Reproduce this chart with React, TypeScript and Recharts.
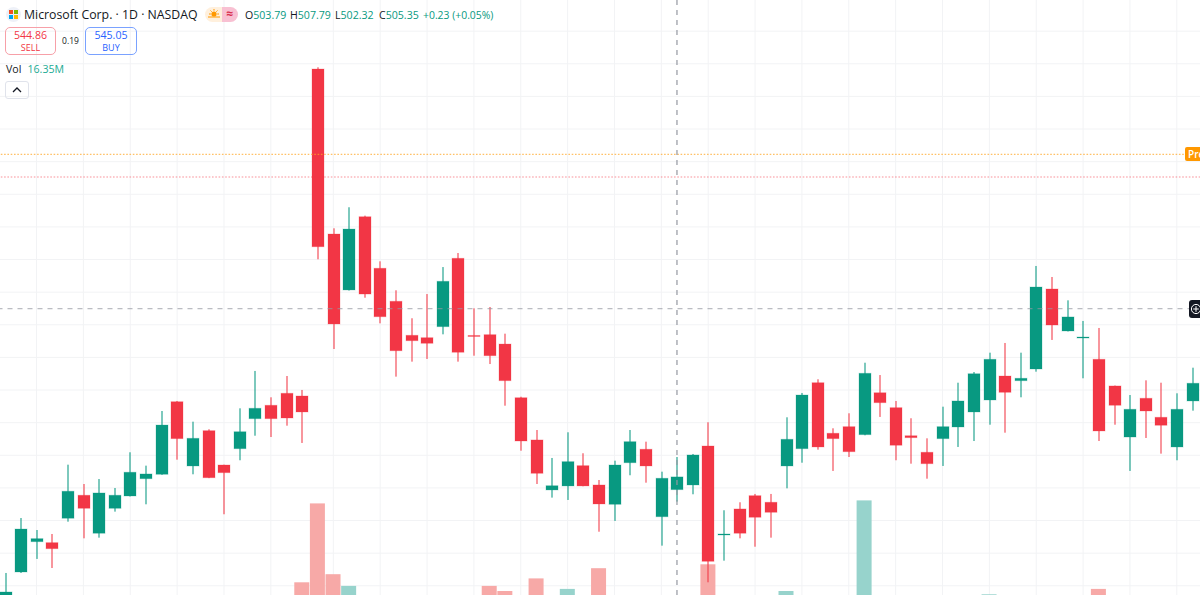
import { ComposedChart, Bar, XAxis, YAxis, ReferenceLine, CartesianGrid } from "recharts";

// daily candles, oldest first
const opens = [
  490.26, 493.69, 497.41, 497.29, 500.28, 503.1, 498.44, 501.5, 503.01, 505.13, 505.67, 514.57, 506.69, 511.02, 506.81, 508.81,
  512.49, 514.13, 515.6, 515.27, 555.36, 535.13, 528.27, 537.25, 530.93, 526.88, 522.71, 522.42, 523.77, 532.15, 522.69, 522.79,
  521.64, 515.06, 509.88, 503.75, 504.24, 506.73, 504.36, 501.99, 507.09, 508.74, 500.47, 503.79, 504.36, 509.14, 498.23, 501.42,
  503.05, 502.24, 506.69, 508.81, 516.9, 510.7, 511.51, 510.53, 515.67, 513.84, 510.4, 508.37, 510.04, 511.47, 513.31, 514.78,
  517.72, 517.15, 518.58, 528.39, 523.24, 522.38, 519.77, 516.5, 510.24, 514.99, 512.66, 509.02, 514.66,
];
const highs = [
  493.57, 500.31, 498.84, 498.35, 506.85, 504.48, 505.09, 503.99, 508.37, 506.73, 513.43, 514.66, 512.12, 511.19, 506.85, 513.76,
  518.34, 515.11, 517.72, 516.01, 555.57, 535.83, 538.41, 537.38, 531.78, 528.23, 524.8, 527.77, 531.08, 532.8, 526.02, 526.18,
  522.91, 515.18, 511.1, 507.67, 510.82, 508.25, 504.97, 507.34, 511.1, 509.67, 505.99, 507.79, 508.16, 512.05, 501.26, 502.24,
  503.26, 503.26, 512.66, 515.64, 517.32, 511.31, 513.15, 519.35, 517.84, 514.66, 512.54, 510.08, 513.96, 516.9, 518.21, 520.58,
  521.77, 520.58, 531.21, 529.86, 527.0, 524.47, 523.61, 516.55, 515.39, 517.19, 516.9, 515.6, 518.74,
];
const lows = [
  489.52, 493.57, 495.29, 494.18, 499.86, 497.82, 497.9, 501.09, 502.95, 501.99, 505.6, 507.46, 505.67, 505.2, 500.77, 507.39,
  510.4, 510.24, 511.63, 509.51, 532.03, 521.03, 528.2, 527.32, 524.18, 517.64, 519.48, 519.81, 522.83, 519.48, 520.21, 519.19,
  514.08, 508.56, 504.48, 502.81, 502.52, 504.2, 498.63, 499.95, 505.55, 504.64, 496.92, 502.32, 503.22, 492.43, 495.08, 497.82,
  496.79, 497.9, 503.95, 507.09, 508.69, 506.08, 507.79, 510.45, 512.7, 507.39, 506.97, 505.13, 506.69, 509.02, 509.75, 511.75,
  510.77, 515.11, 518.25, 522.14, 523.18, 517.44, 509.75, 511.75, 506.08, 510.12, 508.2, 507.39, 513.47,
];
const closes = [
  491.24, 498.96, 497.78, 496.55, 503.59, 501.5, 503.38, 503.1, 505.92, 505.71, 511.71, 510.04, 510.08, 505.25, 505.87, 510.89,
  513.76, 512.49, 512.57, 513.31, 533.57, 524.1, 535.74, 527.77, 524.99, 520.82, 522.05, 521.73, 529.33, 520.63, 522.57, 520.21,
  517.15, 509.75, 505.79, 504.27, 507.22, 504.24, 502.03, 506.81, 509.67, 506.69, 505.18, 505.35, 508.04, 495.0, 498.35, 498.44,
  500.4, 501.01, 509.96, 515.39, 509.02, 510.04, 508.44, 518.05, 514.45, 509.23, 510.16, 506.97, 511.51, 514.66, 518.0, 519.77,
  515.72, 517.44, 528.63, 523.97, 524.96, 522.5, 510.98, 514.13, 513.64, 513.43, 511.68, 513.64, 516.83,
];
// millions; only the bars above the window edge can be read, the rest are guesses below it
const volumes = [
  12.1, 13.4, 9.8, 10.6, 14.2, 11.3, 13.0, 9.5, 12.7, 8.9, 15.1, 14.4, 11.6, 12.9, 10.2, 13.7, 11.1, 9.9, 12.3, 20.9, 47.2, 23.6,
  19.7, 15.8, 14.9, 16.0, 11.8, 12.4, 13.5, 15.6, 12.2, 19.7, 18.0, 16.2, 22.2, 13.3, 18.7, 14.1, 25.6, 14.7, 13.2, 12.8, 15.9,
  16.35, 14.3, 26.9, 15.2, 13.6, 14.8, 12.5, 18.0, 15.4, 14.6, 10.9, 12.0, 48.2, 14.0, 13.1, 10.4, 11.5, 12.6, 11.9, 13.8, 16.9,
  15.0, 9.7, 16.1, 14.5, 11.2, 10.8, 18.7, 13.9, 12.1, 10.7, 9.6, 11.4, 10.3,
];

const gridPrices = [488, 492, 496, 500, 504, 508, 512, 516, 520, 524, 528, 532, 536, 540, 544, 548, 552, 556, 560];
const gridBars = [2, 5, 8, 11, 14, 17, 21, 24, 27, 30, 33, 36, 39, 42, 45, 48, 51, 54, 57, 60, 63, 66, 69, 72, 75];

const prePrice = 544.9;
const prevClosePrice = 542.12;
const crossBar = 43;
const crossPrice = 525.97;

const UP = "#089981";
const DOWN = "#f23645";
const FONT = "'Open Sans', sans-serif";

const chartData = opens.map((o, i) => ({
  idx: i,
  open: o,
  high: highs[i],
  low: lows[i],
  close: closes[i],
  vol: volumes[i],
}));

function Candle(props: any) {
  const { x, y, width, height, payload } = props;
  const { open, high, low, close } = payload;
  const color = close >= open ? UP : DOWN;
  const pxPerUnit = height / (high - low);
  const top = y + (high - Math.max(open, close)) * pxPerUnit;
  const bodyH = Math.max(Math.abs(open - close) * pxPerUnit, 1);
  const cx = Math.round(x + width / 2);
  return (
    <g>
      <rect x={cx - 0.65} y={y} width={1.3} height={height} fill={color} fillOpacity={0.8} />
      <rect x={cx - width / 2} y={top} width={width} height={bodyH} fill={color} stroke={color} strokeOpacity={0.25} strokeWidth={1} />
    </g>
  );
}

function VolBar(props: any) {
  const { x, y, width, height, payload } = props;
  const color = payload.close >= payload.open ? "#97d3cc" : "#f7a9a7";
  return <rect x={x} y={y} width={width} height={height} fill={color} />;
}

const textAt = (left: number, top: number, size: number, color: string) =>
  ({ position: "absolute", left, top, fontSize: size, lineHeight: "16px", color, whiteSpace: "nowrap" }) as const;

function Header() {
  const ink = "#131722";
  const green = "#089981";
  return (
    <div style={{ position: "absolute", left: 0, top: 0, width: 1200, height: 100, fontFamily: FONT, pointerEvents: "none" }}>
      <div style={{ position: "absolute", left: 6, top: 7, width: 15, height: 15, borderRadius: 8, background: "#eef1f8" }} />
      <svg style={{ position: "absolute", left: 9, top: 10 }} width={9} height={9}>
        <rect x={0} y={0} width={4} height={4} fill="#f25022" />
        <rect x={5} y={0} width={4} height={4} fill="#7fba00" />
        <rect x={0} y={5} width={4} height={4} fill="#00a4ef" />
        <rect x={5} y={5} width={4} height={4} fill="#ffb900" />
      </svg>
      <div style={textAt(24, 6.5, 12.3, ink)}>Microsoft Corp. · 1D · NASDAQ</div>

      <div style={{ position: "absolute", left: 205, top: 7, width: 17, height: 15, background: "#fff0dd", borderRadius: "8px 0 0 8px" }} />
      <div style={{ position: "absolute", left: 222, top: 7, width: 16, height: 15, background: "#f8c0d2", borderRadius: "0 8px 8px 0", color: "#d9304f", fontSize: 12, fontWeight: 700, lineHeight: "14px", textAlign: "center" }}>
        ≈
      </div>
      <svg style={{ position: "absolute", left: 208, top: 9 }} width={12} height={10}>
        <circle cx={6} cy={5} r={2.6} fill="#ff9800" />
        <path d="M6 0v1.6M1 5h1.8M9.2 5H11M2.5 1.5l1.2 1.2M9.5 1.5L8.3 2.7M0 8h12" stroke="#ff9800" strokeWidth={1} />
      </svg>

      <div style={textAt(245, 7, 10.6, ink)}>O<span style={{ color: green }}>503.79</span></div>
      <div style={textAt(290, 7, 10.6, ink)}>H<span style={{ color: green }}>507.79</span></div>
      <div style={textAt(335, 7, 10.6, ink)}>L<span style={{ color: green }}>502.32</span></div>
      <div style={textAt(379, 7, 10.6, ink)}>C<span style={{ color: green }}>505.35</span></div>
      <div style={textAt(423, 7, 10.4, green)}>+0.23 (+0.05%)</div>

      <div style={{ position: "absolute", left: 5, top: 27, width: 49, height: 25, paddingTop: 1, border: "1px solid #f7a0a8", borderRadius: 5, color: "#f23645", textAlign: "center" }}>
        <div style={{ fontSize: 10.6, lineHeight: "13px" }}>544.86</div>
        <div style={{ fontSize: 9, lineHeight: "12px" }}>SELL</div>
      </div>
      <div style={{ position: "absolute", left: 56, top: 35, width: 29, textAlign: "center", fontSize: 8.5, lineHeight: "12px", color: ink }}>0.19</div>
      <div style={{ position: "absolute", left: 85, top: 27, width: 50, height: 25, paddingTop: 1, border: "1px solid #7aa2ff", borderRadius: 5, color: "#2962ff", textAlign: "center" }}>
        <div style={{ fontSize: 10.6, lineHeight: "13px" }}>545.05</div>
        <div style={{ fontSize: 9, lineHeight: "12px" }}>BUY</div>
      </div>

      <div style={textAt(6, 61, 10.6, ink)}>Vol</div>
      <div style={textAt(27.5, 61, 10.6, "#22ab94")}>16.35M</div>
      <div style={{ position: "absolute", left: 5, top: 81, width: 22, height: 16, border: "1px solid #e0e3eb", borderRadius: 3 }} />
      <svg style={{ position: "absolute", left: 12, top: 87 }} width={10} height={6}>
        <path d="M1 5l4-4 4 4" fill="none" stroke={ink} strokeWidth={1.3} />
      </svg>

      <div style={{ position: "absolute", left: 1185, top: 147, width: 15, height: 14, background: "#ff9800", borderRadius: "2px 0 0 2px", overflow: "hidden", color: "#fff", fontSize: 10, lineHeight: "14px", fontWeight: 600, paddingLeft: 3, boxSizing: "border-box", whiteSpace: "nowrap" }}>
        Pre
      </div>
      <div style={{ position: "absolute", left: 1189, top: 300, width: 11, height: 18, background: ink, borderRadius: "3px 0 0 3px" }} />
      <svg style={{ position: "absolute", left: 1190, top: 303 }} width={10} height={12}>
        <circle cx={6} cy={6} r={4.6} fill="none" stroke="#fff" strokeWidth={1} />
        <path d="M6 3.2v5.6M3.2 6h5.6" stroke="#fff" strokeWidth={1} />
      </svg>
    </div>
  );
}

export default function App() {
  return (
    <div style={{ position: "absolute", left: 0, top: 0, width: 1200, height: 595, overflow: "hidden", background: "#fff" }}>
      {/* the chart runs past the window bottom: the volume baseline is cut off in the reference too */}
      <ComposedChart width={1200} height={645} data={chartData} margin={{ top: 0, right: -0.24, bottom: 0, left: -2.5 }}>
        <XAxis xAxisId="price" dataKey="idx" ticks={gridBars} interval={0} hide />
        <XAxis xAxisId="vol" dataKey="idx" hide />
        <YAxis yAxisId="price" domain={[484.74, 563.82]} ticks={gridPrices} interval={0} allowDataOverflow hide />
        <YAxis yAxisId="vol" orientation="right" domain={[0, 215]} allowDataOverflow hide />

        <CartesianGrid xAxisId="price" yAxisId="price" syncWithTicks stroke="#f2f3f5" strokeWidth={1} />

        <Bar xAxisId="vol" yAxisId="vol" dataKey="vol" barSize={15} shape={VolBar} isAnimationActive={false} />
        <Bar
          xAxisId="price"
          yAxisId="price"
          dataKey={(d: any) => [d.low, d.high]}
          barSize={12}
          shape={Candle}
          isAnimationActive={false}
        />

        <ReferenceLine xAxisId="price" yAxisId="price" y={prePrice} stroke="#ffa726" strokeOpacity={0.7} strokeDasharray="1.6 1.7" strokeWidth={1.2} />
        <ReferenceLine xAxisId="price" yAxisId="price" y={prevClosePrice} stroke="#f23645" strokeOpacity={0.55} strokeDasharray="1.6 1.7" strokeWidth={1.2} />
        <ReferenceLine xAxisId="price" yAxisId="price" y={crossPrice} stroke="#9598a1" strokeOpacity={0.65} strokeDasharray="5 5" strokeWidth={1.2} />
        <ReferenceLine xAxisId="price" yAxisId="price" x={crossBar} stroke="#9598a1" strokeDasharray="5 5" strokeWidth={1.2} />
      </ComposedChart>
      <Header />
    </div>
  );
}
